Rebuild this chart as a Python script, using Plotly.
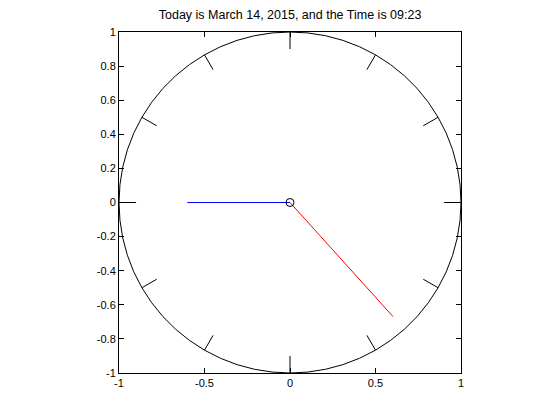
import numpy as np
import plotly.graph_objects as go

title_text = "Today is March 14, 2015, and the Time is 09:23"
hour_value = 9
minute_value = 23
hour_hand_len = 0.6
minute_hand_len = 0.9
hour_marks = list(range(12))
mark_inner = 0.9
mark_outer = 1.0
x_ticks = [-1, -0.5, 0, 0.5, 1]
x_ticklabels = ["-1", "-0.5", "0", "0.5", "1"]
y_ticks = [-1, -0.8, -0.6, -0.4, -0.2, 0, 0.2, 0.4, 0.6, 0.8, 1]
y_ticklabels = ["-1", "-0.8", "-0.6", "-0.4", "-0.2", "0", "0.2", "0.4", "0.6", "0.8", "1"]

fig = go.Figure()

# clock face
theta = np.linspace(0, 2 * np.pi, 61)
fig.add_trace(go.Scatter(x=np.cos(theta), y=np.sin(theta), mode="lines",
                         line=dict(color="black", width=1), hoverinfo="skip"))

# hour marks
mx, my = [], []
for h in hour_marks:
    a = h * np.pi / 6
    mx += [mark_inner * np.sin(a), mark_outer * np.sin(a), None]
    my += [mark_inner * np.cos(a), mark_outer * np.cos(a), None]
fig.add_trace(go.Scatter(x=mx, y=my, mode="lines", line=dict(color="black", width=1),
                         hoverinfo="skip"))

# hour hand
ah = hour_value * np.pi / 6
fig.add_trace(go.Scatter(x=[0, hour_hand_len * np.sin(ah)], y=[0, hour_hand_len * np.cos(ah)],
                         mode="lines", line=dict(color="blue", width=1)))
# minute hand
am = minute_value * np.pi / 30
fig.add_trace(go.Scatter(x=[0, minute_hand_len * np.sin(am)], y=[0, minute_hand_len * np.cos(am)],
                         mode="lines", line=dict(color="red", width=1)))
# center
fig.add_trace(go.Scatter(x=[0], y=[0], mode="markers",
                         marker=dict(symbol="circle-open", size=8, color="black",
                                     line=dict(width=1, color="black"))))

axis_common = dict(showgrid=False, zeroline=False, showline=True, linecolor="black",
                   linewidth=1, mirror="ticks", ticks="inside", ticklen=5,
                   tickcolor="black", tickwidth=1,
                   tickfont=dict(family="Liberation Sans, Arial", size=11, color="black"))

fig.update_layout(
    width=552, height=412,
    margin=dict(l=111, r=99, t=24, b=47),
    paper_bgcolor="white", plot_bgcolor="white",
    showlegend=False,
    title=dict(text=title_text, x=0.511, xanchor="center", xref="container",
               y=0.983, yanchor="middle", yref="container",
               font=dict(family="Liberation Sans, Arial", size=12.5, color="black")),
    xaxis=dict(range=[-1, 1], tickvals=x_ticks, ticktext=x_ticklabels, **axis_common),
    yaxis=dict(range=[-1, 1], tickvals=y_ticks, ticktext=y_ticklabels, **axis_common),
)

fig.write_html("out.html")
